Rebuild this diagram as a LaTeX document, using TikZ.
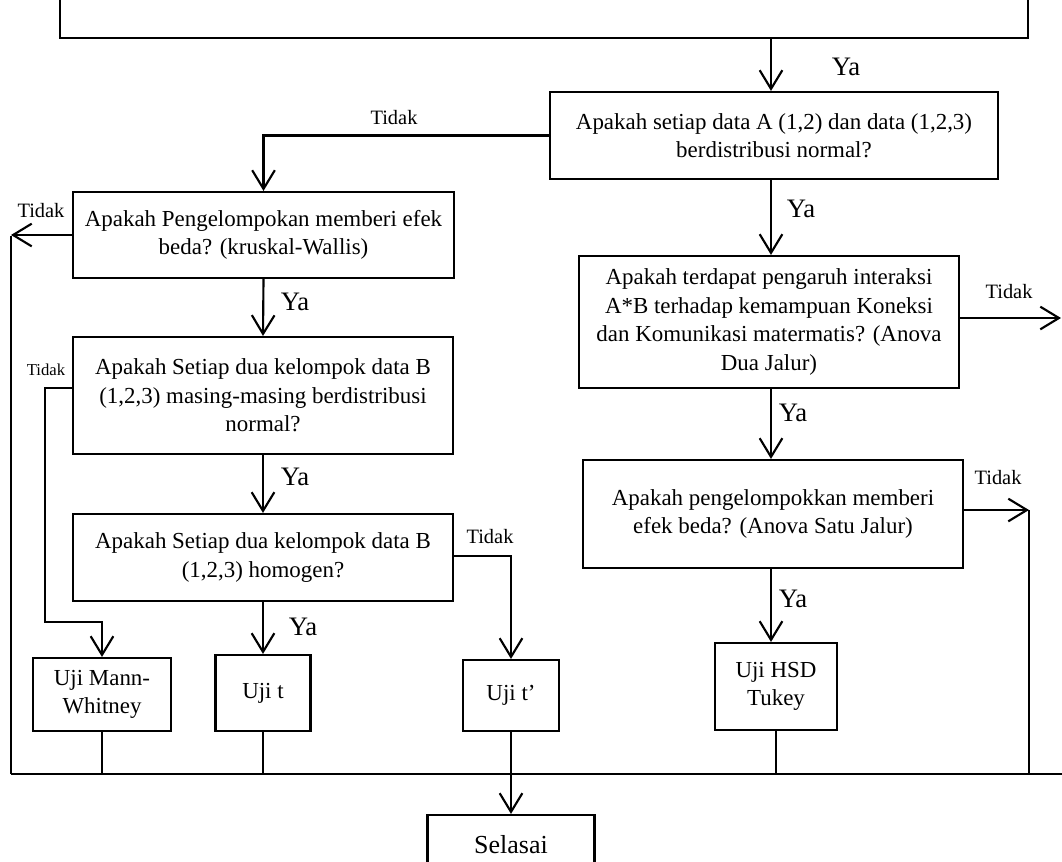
\documentclass[tikz,border=0pt]{standalone}
\usepackage{fontspec}
\setmainfont{Liberation Serif}
\usetikzlibrary{arrows.meta}
\begin{document}
\begin{tikzpicture}[x=0.75pt,y=-0.75pt,
  box/.style={draw, line width=1.6pt, align=center, inner sep=0pt,
    font=\fontsize{17.2}{21.4}\selectfont},
  arr/.style={line width=1.6pt, -{Straight Barb[length=14pt,width=17pt]}},
  ln/.style={line width=1.6pt},
  thinln/.style={line width=1.1pt},
  ya/.style={font=\fontsize{20}{22}\selectfont, inner sep=0pt},
  tidak/.style={font=\fontsize{15.3}{17}\selectfont, inner sep=0pt},
  tidaks/.style={font=\fontsize{12.5}{14}\selectfont, inner sep=0pt}]
\clip (0,0) rectangle (1062,861);
\fill[white] (0,0) rectangle (1062,861);

% boxes
\node[box, minimum width=448*0.75pt, minimum height=87*0.75pt] (b1) at (774,135.5)
  {Apakah setiap data A (1,2) dan data (1,2,3)\\berdistribusi normal?};
\node[box, minimum width=381*0.75pt, minimum height=86*0.75pt] (b2) at (263.5,235)
  {Apakah Pengelompokan memberi efek\\beda? (kruskal-Wallis)};
\node[box, minimum width=380*0.75pt, minimum height=117*0.75pt] (b3) at (263,395.5)
  {Apakah Setiap dua kelompok data B\\(1,2,3) masing-masing berdistribusi\\normal?};
\node[box, minimum width=380*0.75pt, minimum height=87*0.75pt] (b4) at (263,557.5)
  {Apakah Setiap dua kelompok data B\\(1,2,3) homogen?};
\node[box, minimum width=380*0.75pt, minimum height=132*0.75pt] (b5) at (769,322)
  {Apakah terdapat pengaruh interaksi\\A*B terhadap kemampuan Koneksi\\dan Komunikasi matermatis? (Anova\\Dua Jalur)};
\node[box, minimum width=380*0.75pt, minimum height=108*0.75pt] (b6) at (773,514)
  {Apakah pengelompokkan memberi\\efek beda? (Anova Satu Jalur)};
\node[box, minimum width=138*0.75pt, minimum height=73*0.75pt] (mw) at (102,694.5)
  {Uji Mann-\\Whitney};
\node[box, minimum width=95*0.75pt, minimum height=76*0.75pt] (ut) at (263,693)
  {Uji t};
\node[box, minimum width=96*0.75pt, minimum height=71*0.75pt] (ut2) at (511,695.5)
  {Uji t’};
\node[box, minimum width=122*0.75pt, minimum height=87*0.75pt] (hsd) at (776,686.5)
  {Uji HSD\\Tukey};
\node[box, minimum width=167*0.75pt, minimum height=60*0.75pt,
  font=\fontsize{19.5}{21}\selectfont] (sel) at (511,845) {Selasai};

% helper coordinates
\coordinate (cx) at (771,0);
\coordinate (bus) at (0,774);
\coordinate (busr) at (1062,774);
\coordinate (lt) at (11,236);
\coordinate (k1) at (45,388);
\coordinate (k2) at (45,622);
\coordinate (k3) at (0,556);
\coordinate (r1) at (1061,318);
\coordinate (r2) at (1029,510);

% top bracket (bottom of a box cut off by the page)
\draw[ln] (60,-5) -- (60,38) -- (1028,38) -- (1028,-5);
\coordinate (tb) at (771,38);
\draw[arr] (tb) -- (cx |- b1.north);

% connectors
\draw[arr] (cx |- b1.south) -- (cx |- b5.north);
\draw[arr] (cx |- b5.south) -- (cx |- b6.north);
\draw[arr] (cx |- b6.south) -- (cx |- hsd.north);
\draw[arr] (b1.west) -| (b2.north);
\draw[arr] (b2.south) -- (b3.north);
\draw[arr] (b3.south) -- (b4.north);
\draw[arr] (b4.south) -- (ut.north);
\draw[arr] (b2.west) -- (b2.west -| lt);
\draw[ln] (lt) -- (lt |- bus);
\draw[arr] (b3.west |- k1) -- (k1) -- (k2) -| (mw.north);
\draw[arr] (b4.east |- k3) -| (ut2.north);
\draw[arr] (b5.east |- r1) -- (r1);
\draw[arr] (b6.east |- r2) -- (r2);
\draw[ln] (r2) -- (r2 |- bus);
\draw[ln] (lt |- bus) -- (busr);
\draw[thinln] (mw.south) -- (mw.south |- bus);
\draw[thinln] (ut.south) -- (ut.south |- bus);
\draw[thinln] (ut2.south) -- (ut2.south |- bus);
\draw[thinln] (hsd.south) -- (hsd.south |- bus);
\draw[arr] (ut2.south |- bus) -- (sel.north);

% labels
\node[ya] (l1) at (846,67) {Ya};
\node[ya] (l2) at (801,209) {Ya};
\node[ya] (l3) at (295,302) {Ya};
\node[ya] (l4) at (295,477) {Ya};
\node[ya] (l5) at (303,627) {Ya};
\node[ya] (l6) at (793,413) {Ya};
\node[ya] (l7) at (793,599) {Ya};
\node[tidak] (t1) at (394,118) {Tidak};
\node[tidak] (t2) at (41,211) {Tidak};
\node[tidaks] (t3) at (46,370) {Tidak};
\node[tidak] (t4) at (490,537) {Tidak};
\node[tidak] (t5) at (1009,292) {Tidak};
\node[tidak] (t6) at (998,478) {Tidak};
\end{tikzpicture}
\end{document}
